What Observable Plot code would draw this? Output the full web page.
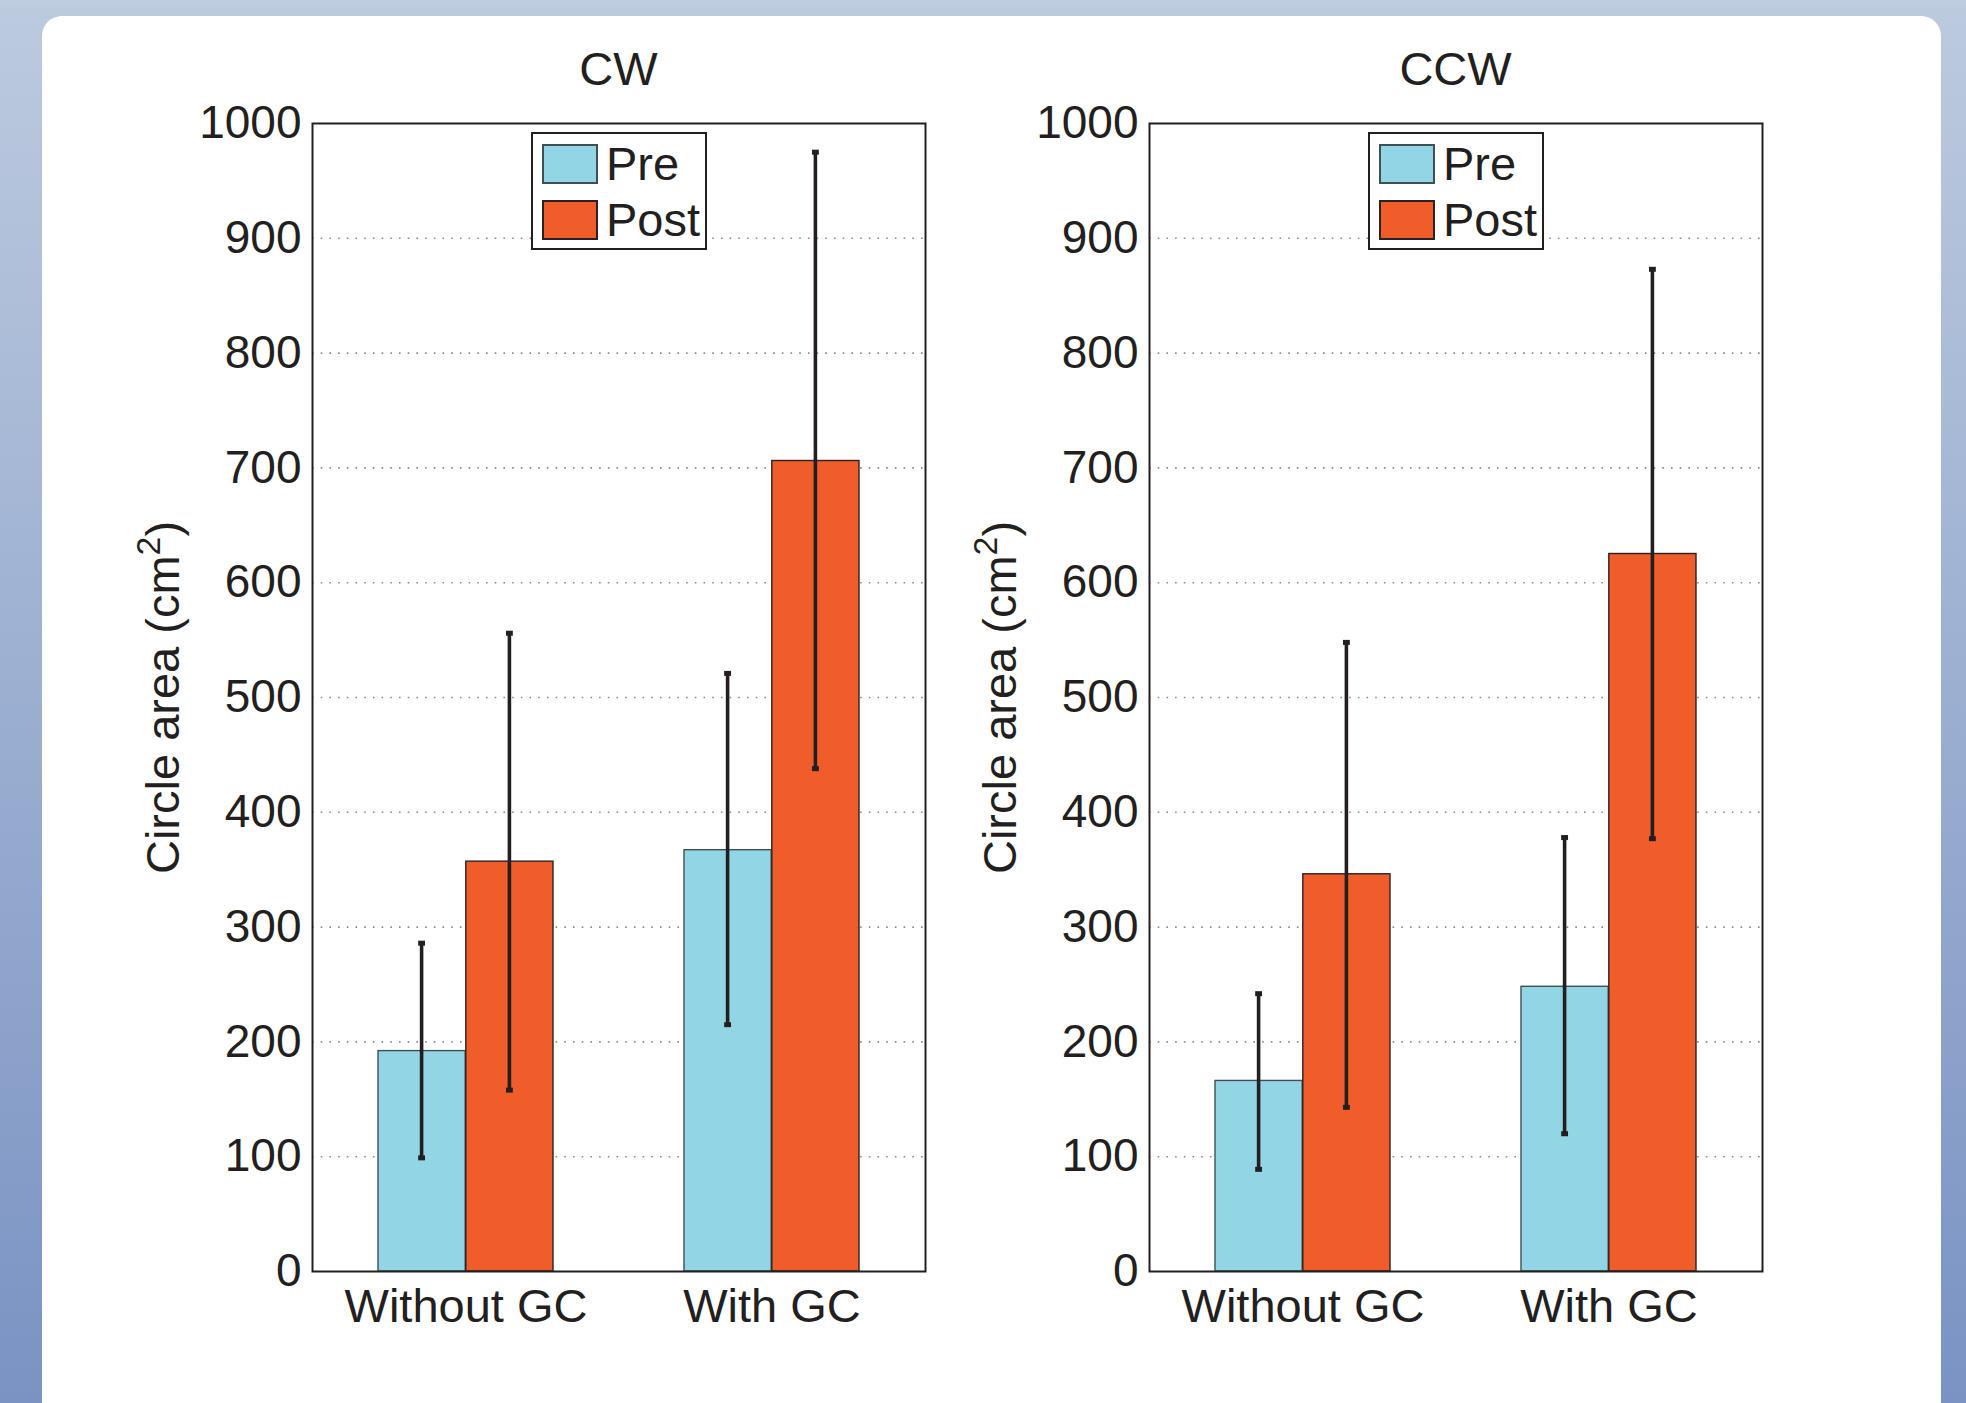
<!DOCTYPE html>
<html>
<head>
<meta charset="utf-8">
<script src="https://cdn.jsdelivr.net/npm/d3@7"></script>
<script src="https://cdn.jsdelivr.net/npm/@observablehq/plot@0.6"></script>
<style>
  html, body { margin: 0; padding: 0; }
  body {
    width: 1966px; height: 1403px; overflow: hidden; position: relative;
    background: linear-gradient(to bottom, #c0cce0 0px, #bccadf 10px, #7a93c3 1403px);
    font-family: "Liberation Sans", Arial, Helvetica, sans-serif;
    color: #231f20;
  }
  .card { position: absolute; left: 42px; top: 16px; width: 1899px; height: 1500px; background: #fff; border-radius: 20px; }
  .panel { position: absolute; top: 113px; }
  .title { position: absolute; top: 45px; width: 400px; text-align: center; font-size: 47px; line-height: 47px; }
  .legend { position: absolute; top: 132px; width: 172px; height: 114px; background: #fff; border: 2px solid #231f20; }
  .legend .row { position: absolute; left: 9px; height: 43px; display: flex; align-items: center; }
  .legend .sw { width: 56px; height: 40px; box-sizing: border-box; border: 2px solid #3b4a50; margin-right: 8px; }
  .legend .lab { font-size: 47px; line-height: 43px; }
</style>
</head>
<body>
<div class="card"></div>
<div id="root"></div>
<script>
// ---- data ----
const panels = ["CW", "CCW"];
const groups = ["Without GC", "With GC"];
const phases = ["Pre", "Post"];
const yTicks = [0, 100, 200, 300, 400, 500, 600, 700, 800, 900, 1000];
const gridTicks = [100, 200, 300, 400, 500, 600, 700, 800, 900];
const yLabel = "Circle area (cm²)";

// CW
const cwPre    = [192, 367];
const cwPreLo  = [99, 215];
const cwPreHi  = [286, 521];
const cwPost   = [357, 706];
const cwPostLo = [158, 438];
const cwPostHi = [556, 975];
// CCW
const ccwPre    = [166, 248];
const ccwPreLo  = [89, 120];
const ccwPreHi  = [242, 378];
const ccwPost   = [346, 625];
const ccwPostLo = [143, 377];
const ccwPostHi = [548, 873];

const colors = ["#92d6e5", "#f05d2b"];
const edges = ["#3e5056", "#2a2222"];

function rowsFor(pre, preLo, preHi, post, postLo, postHi) {
  const rows = [];
  groups.forEach((g, i) => {
    rows.push({group: g, phase: "Pre", mean: pre[i], lo: preLo[i], hi: preHi[i]});
    rows.push({group: g, phase: "Post", mean: post[i], lo: postLo[i], hi: postHi[i]});
  });
  return rows;
}

const data = {
  CW: rowsFor(cwPre, cwPreLo, cwPreHi, cwPost, cwPostLo, cwPostHi),
  CCW: rowsFor(ccwPre, ccwPreLo, ccwPreHi, ccwPost, ccwPostLo, ccwPostHi)
};

const W = 833, H = 1258, ML = 200, MR = 20, MT = 10, MB = 100;
const PI = 0.427, PO = 0.2135;
// band width of a group, from the same band layout the x scale uses
const bw = d3.scaleBand().domain(groups).range([0, W - ML - MR]).paddingInner(PI).paddingOuter(PO).bandwidth();
const half = bw / 2;
const errW = 4.2, capW = 7.5;

function sideInsets(phase, width) {
  // centre a thin mark on the Pre (left) or Post (right) half of the group band
  const c = phase === "Pre" ? bw / 4 : 3 * bw / 4;
  return {insetLeft: c - width / 2, insetRight: bw - c - width / 2};
}

function makePanel(rows) {
  const pre = rows.filter(d => d.phase === "Pre");
  const post = rows.filter(d => d.phase === "Post");
  const marks = [
    Plot.gridY(gridTicks, {stroke: "#8a8a8a", strokeOpacity: 1, strokeWidth: 1.6, strokeDasharray: "1.6,7.1"}),
    Plot.barY(pre, {x: "group", y: "mean", fill: colors[0], stroke: edges[0], strokeWidth: 1.4, insetRight: half}),
    Plot.barY(post, {x: "group", y: "mean", fill: colors[1], stroke: edges[1], strokeWidth: 1.4, insetLeft: half})
  ];
  [pre, post].forEach((subset, j) => {
    const ph = phases[j];
    marks.push(Plot.barY(subset, {x: "group", y1: "lo", y2: "hi", fill: "#231f20", ...sideInsets(ph, errW)}));
    marks.push(Plot.tickY(subset, {x: "group", y: "lo", stroke: "#231f20", strokeWidth: 5, ...sideInsets(ph, capW)}));
    marks.push(Plot.tickY(subset, {x: "group", y: "hi", stroke: "#231f20", strokeWidth: 5, ...sideInsets(ph, capW)}));
  });
  marks.push(
    Plot.frame({stroke: "#231f20", strokeWidth: 2}),
    Plot.axisY({ticks: yTicks, tickFormat: d => String(d), tickSize: 0, tickPadding: 11, fontSize: 46,
      label: yLabel, labelAnchor: "center", labelOffset: 167, labelArrow: "none"}),
    Plot.axisX({tickSize: 0, tickPadding: 17, fontSize: 47, label: null})
  );
  const svg = Plot.plot({
    width: W, height: H,
    marginLeft: ML, marginRight: MR, marginTop: MT, marginBottom: MB,
    style: {fontFamily: '"Liberation Sans", Arial, Helvetica, sans-serif', color: "#231f20", background: "transparent", overflow: "visible"},
    x: {domain: groups, paddingInner: PI, paddingOuter: PO},
    y: {domain: [0, 1000]},
    marks
  });
  // render the unit's exponent as a raised "2", as in the original
  svg.querySelectorAll("text").forEach(t => {
    if (t.textContent === yLabel) {
      while (t.firstChild) t.removeChild(t.firstChild);
      const ns = "http://www.w3.org/2000/svg";
      const a = document.createElementNS(ns, "tspan"); a.textContent = "Circle area (cm";
      const s = document.createElementNS(ns, "tspan"); s.textContent = "2";
      s.setAttribute("font-size", "0.72em"); s.setAttribute("dy", "-0.55em");
      const b = document.createElementNS(ns, "tspan"); b.textContent = ")";
      b.setAttribute("dy", "0.4em");
      t.appendChild(a); t.appendChild(s); t.appendChild(b);
      t.setAttribute("font-size", "47");
    }
  });
  return svg;
}

const root = document.getElementById("root");
const lefts = [112, 949];
panels.forEach((p, i) => {
  const div = document.createElement("div");
  div.className = "panel";
  div.style.left = lefts[i] + "px";
  div.appendChild(makePanel(data[p]));
  root.appendChild(div);

  const t = document.createElement("div");
  t.className = "title";
  t.textContent = p;
  t.style.left = (lefts[i] + ML + (W - ML - MR) / 2 - 200) + "px";
  root.appendChild(t);

  const lg = document.createElement("div");
  lg.className = "legend";
  lg.style.left = (lefts[i] + 419) + "px";
  phases.forEach((ph, j) => {
    const r = document.createElement("div");
    r.className = "row";
    r.style.top = (j === 0 ? 8 : 64) + "px";
    const sw = document.createElement("div");
    sw.className = "sw";
    sw.style.background = colors[j];
    sw.style.borderColor = edges[j];
    const lab = document.createElement("span");
    lab.className = "lab";
    lab.textContent = ph;
    r.appendChild(sw); r.appendChild(lab);
    lg.appendChild(r);
  });
  root.appendChild(lg);
});
</script>
</body>
</html>
